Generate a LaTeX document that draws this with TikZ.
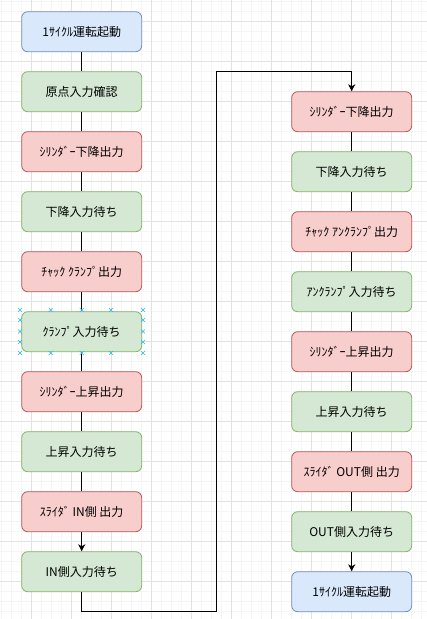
\documentclass[tikz,border=0pt]{standalone}
\usepackage{fontspec}
\newfontfamily\jp{Noto Sans CJK JP}
\usetikzlibrary{arrows.meta,calc}
\definecolor{bfill}{HTML}{DAE8FC}\definecolor{bline}{HTML}{6C8EBF}
\definecolor{gfill}{HTML}{D5E8D4}\definecolor{gline}{HTML}{82B366}
\definecolor{rfill}{HTML}{F8CECC}\definecolor{rline}{HTML}{B85450}
\definecolor{minorgrid}{HTML}{F5F5F5}\definecolor{majorgrid}{HTML}{E2E2E2}
\definecolor{selmark}{HTML}{29B6F2}
\def\wire{\draw[line width=0.9pt]}
\def\warrow{\draw[line width=0.9pt,-{Stealth[length=7pt,width=7pt,inset=2pt]}]}
\def\selx#1{\draw[selmark,line width=0.6pt] ($(#1)+(-2,-2)$) -- ($(#1)+(2,2)$) ($(#1)+(-2,2)$) -- ($(#1)+(2,-2)$);}

\begin{document}
\begin{tikzpicture}[x=1pt,y=-1pt,
    stepbox/.style={rounded corners=6pt,line width=0.8pt,minimum width=120pt,minimum height=40pt,
        inner sep=0pt,font=\jp\fontsize{12}{14}\selectfont},
    startbox/.style={stepbox,draw=bline,fill=bfill},
    waitbox/.style={stepbox,draw=gline,fill=gfill},
    outbox/.style={stepbox,draw=rline,fill=rfill}]
    \useasboundingbox (0,0) rectangle (427,619);
    \fill[white] (0,0) rectangle (427,619);
    % grid
    \foreach \g in {1.7,11.7,...,427} \draw[minorgrid,line width=0.5pt] (\g,0) -- (\g,619);
    \foreach \g in {1.7,11.7,...,619} \draw[minorgrid,line width=0.5pt] (0,\g) -- (427,\g);
    \foreach \g in {31.7,71.7,...,427} \draw[majorgrid,line width=0.6pt] (\g,0) -- (\g,619);
    \foreach \g in {21.7,61.7,...,619} \draw[majorgrid,line width=0.6pt] (0,\g) -- (427,\g);

    % left column
    \node[startbox] (a1)  at (81.7, 31.7) {1ｻｲｸﾙ運転起動};
    \node[waitbox]  (a2)  at (81.7, 91.7) {原点入力確認};
    \node[outbox]   (a3)  at (81.7,151.7) {ｼﾘﾝﾀﾞｰ下降出力};
    \node[waitbox]  (a4)  at (81.7,211.7) {下降入力待ち};
    \node[outbox]   (a5)  at (81.7,271.7) {ﾁｬｯｸ ｸﾗﾝﾌﾟ出力};
    \node[waitbox]  (a6)  at (81.7,331.7) {ｸﾗﾝﾌﾟ入力待ち};
    \node[outbox]   (a7)  at (81.7,391.7) {ｼﾘﾝﾀﾞｰ上昇出力};
    \node[waitbox]  (a8)  at (81.7,451.7) {上昇入力待ち};
    \node[outbox]   (a9)  at (81.7,511.7) {ｽﾗｲﾀﾞ IN側 出力};
    \node[waitbox]  (a10) at (81.7,571.7) {IN側入力待ち};

    % right column
    \node[outbox]   (b1) at (351.7,111.7) {ｼﾘﾝﾀﾞｰ下降出力};
    \node[waitbox]  (b2) at (351.7,171.7) {下降入力待ち};
    \node[outbox]   (b3) at (351.7,231.7) {ﾁｬｯｸ ｱﾝｸﾗﾝﾌﾟ出力};
    \node[waitbox]  (b4) at (351.7,291.7) {ｱﾝｸﾗﾝﾌﾟ入力待ち};
    \node[outbox]   (b5) at (351.7,351.7) {ｼﾘﾝﾀﾞｰ上昇出力};
    \node[waitbox]  (b6) at (351.7,411.7) {上昇入力待ち};
    \node[outbox]   (b7) at (351.7,471.7) {ｽﾗｲﾀﾞ OUT側 出力};
    \node[waitbox]  (b8) at (351.7,531.7) {OUT側入力待ち};
    \node[startbox] (b9) at (351.7,591.7) {1ｻｲｸﾙ運転起動};

    % connectors
    \foreach \i/\j in {1/2,2/3,3/4,4/5,5/6,6/7,7/8,8/9} \wire (a\i) -- (a\j);
    \warrow (a9) -- (a10);
    \foreach \i/\j in {1/2,2/3,3/4,4/5,5/6,6/7,7/8} \wire (b\i) -- (b\j);
    \warrow (b8) -- (b9);
    \coordinate (loopbot) at (216.7,611.7);
    \coordinate (looptop) at (216.7,71.7);
    \warrow (a10.south) |- (loopbot) -- (looptop) -| (b1.north);

    % selection handles
    \foreach \sx in {20,50.7,81.7,111,143} {\selx{\sx,310} \selx{\sx,353}}
    \foreach \sy in {320,331.5,342} {\selx{20,\sy} \selx{143,\sy}}
\end{tikzpicture}
\end{document}
